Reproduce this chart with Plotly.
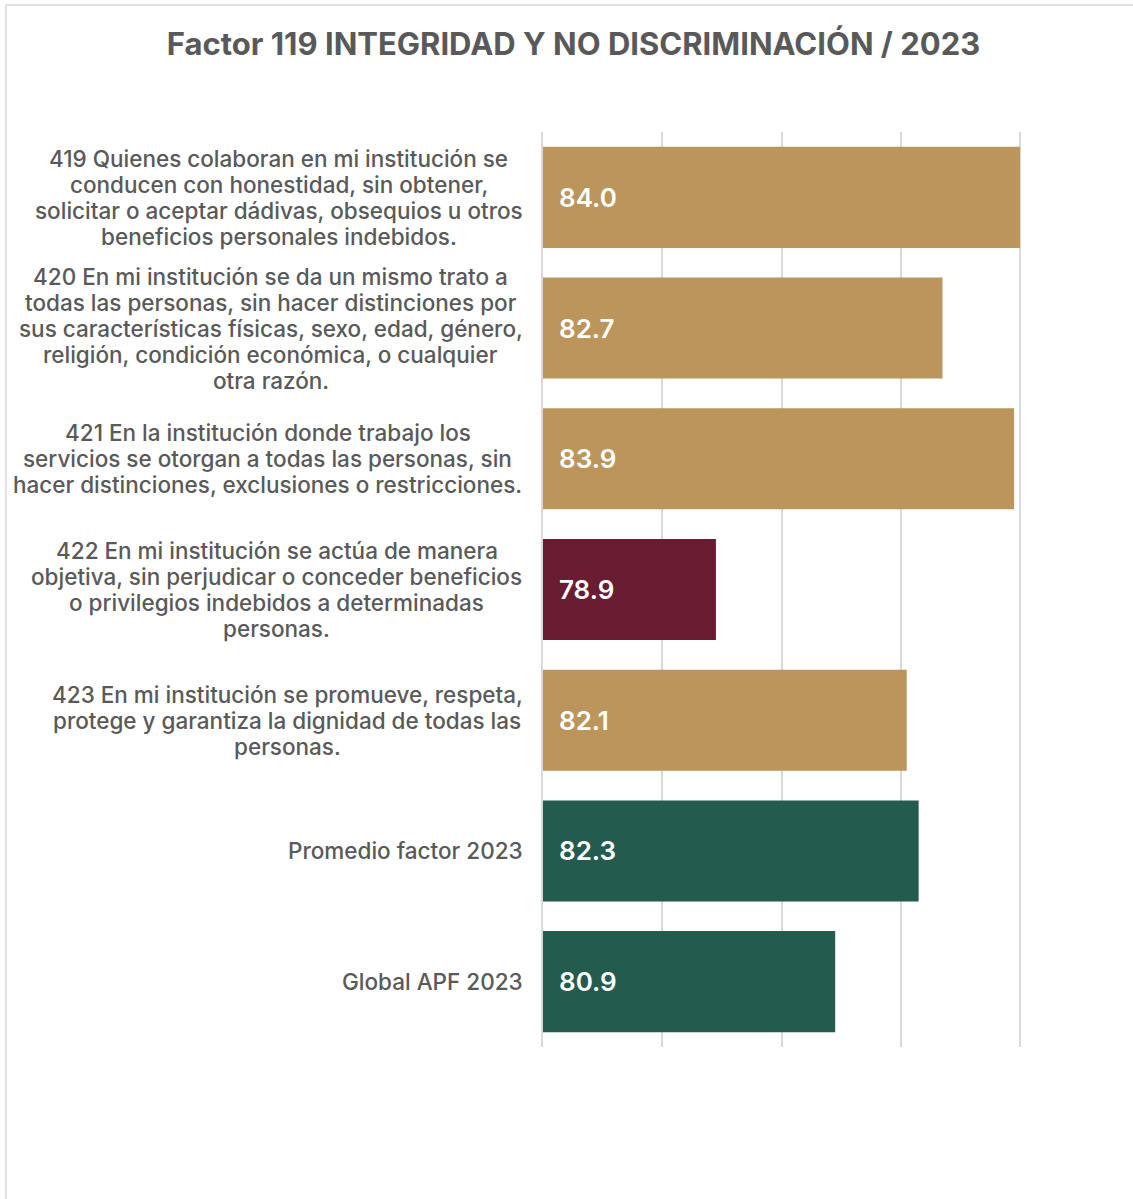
import plotly.graph_objects as go

# Survey items (reactivos) and reference averages for factor 119
labels = [
    "419 Quienes colaboran en mi institución se<br>conducen con honestidad, sin obtener,<br>solicitar o aceptar dádivas, obsequios u otros<br>beneficios personales indebidos.",
    "420 En mi institución se da un mismo trato a<br>todas las personas, sin hacer distinciones por<br>sus características físicas, sexo, edad, género,<br>religión, condición económica, o cualquier<br>otra razón.",
    "421 En la institución donde trabajo los<br>servicios se otorgan a todas las personas, sin<br>hacer distinciones, exclusiones o restricciones.",
    "422 En mi institución se actúa de manera<br>objetiva, sin perjudicar o conceder beneficios<br>o privilegios indebidos a determinadas<br>personas.",
    "423 En mi institución se promueve, respeta,<br>protege y garantiza la dignidad de todas las<br>personas.",
    "Promedio factor 2023",
    "Global APF 2023",
]
scores = [84.0, 82.7, 83.9, 78.9, 82.1, 82.3, 80.9]
bar_colors = ["#BC955C", "#BC955C", "#BC955C", "#691C32", "#BC955C", "#235B4E", "#235B4E"]

grid_ticks = [76, 78, 80, 82, 84]
x_range = [76, 84.05]

FONT = "Inter"
TEXT_GRAY = "#595959"

# Plot area in pixels
L, T, B = 543, 132, 1047
R = L + (x_range[1] - x_range[0]) * (1020 - 543) / 8
W, H = R - L, B - T

# Label block geometry (pixels): right edge, line pitch, block widths
LABEL_RIGHT = 522
LINE_PITCH = 26
label_block_w = [487, 503, 509, 491, 470, 0, 0]

fig = go.Figure()
fig.add_trace(go.Bar(
    x=scores,
    y=labels,
    orientation="h",
    marker=dict(color=bar_colors, line=dict(width=0)),
    hoverinfo="skip",
))

# Category labels: one annotation per line so the line pitch stays tight,
# every line centred on its block
label_font = dict(family=FONT, size=22.5, color=TEXT_GRAY, weight=500)
for lab, bw in zip(labels, label_block_w):
    lines = lab.split("<br>")
    n = len(lines)
    for i, line in enumerate(lines):
        offset = (i - (n - 1) / 2) * LINE_PITCH
        if n == 1:
            xanchor, xshift = "right", LABEL_RIGHT - L + 3
        else:
            xanchor, xshift = "center", LABEL_RIGHT - bw / 2 - L
        fig.add_annotation(
            x=0, xref="paper", y=lab, yref="y",
            text=line, showarrow=False,
            xanchor=xanchor, yanchor="middle", align="center",
            xshift=xshift, yshift=-offset,
            font=label_font,
        )

# Value labels inside each bar
for lab, v in zip(labels, scores):
    fig.add_annotation(
        x=x_range[0], xref="x", y=lab, yref="y",
        text=f"{v:.1f}", showarrow=False,
        xanchor="left", yanchor="middle",
        xshift=14,
        font=dict(family=FONT, size=26, color="white", weight=600),
    )

# Light frame around the chart
fig.add_shape(
    type="rect", xref="paper", yref="paper",
    x0=(6 - L) / W, x1=(1145 - L) / W,
    y0=(B - 1215) / H, y1=(B - 5) / H,
    line=dict(color="#d9d9d9", width=1.5),
    fillcolor="rgba(0,0,0,0)", layer="below",
)

fig.update_layout(
    width=1133, height=1199,
    margin=dict(l=L, r=1133 - R, t=T, b=1199 - B, pad=0),
    paper_bgcolor="white", plot_bgcolor="white",
    bargap=0.227,
    showlegend=False,
    title=dict(
        text="Factor 119 INTEGRIDAD Y NO DISCRIMINACIÓN / 2023",
        x=573.5 / 1133, xref="container", xanchor="center",
        y=1 - 44 / 1199, yref="container", yanchor="middle",
        font=dict(family=FONT, size=31, color=TEXT_GRAY, weight=700),
    ),
    xaxis=dict(
        range=x_range, tickvals=grid_ticks, showticklabels=False,
        showgrid=True, gridcolor="#d9d9d9", gridwidth=1.5,
        zeroline=False, showline=False, ticks="",
        fixedrange=True,
    ),
    yaxis=dict(
        categoryorder="array", categoryarray=labels,
        autorange="reversed", showticklabels=False,
        showgrid=False, zeroline=False, ticks="",
        showline=True, linecolor="#d9d9d9", linewidth=1.5,
        fixedrange=True,
    ),
)

fig.write_html("out.html")
